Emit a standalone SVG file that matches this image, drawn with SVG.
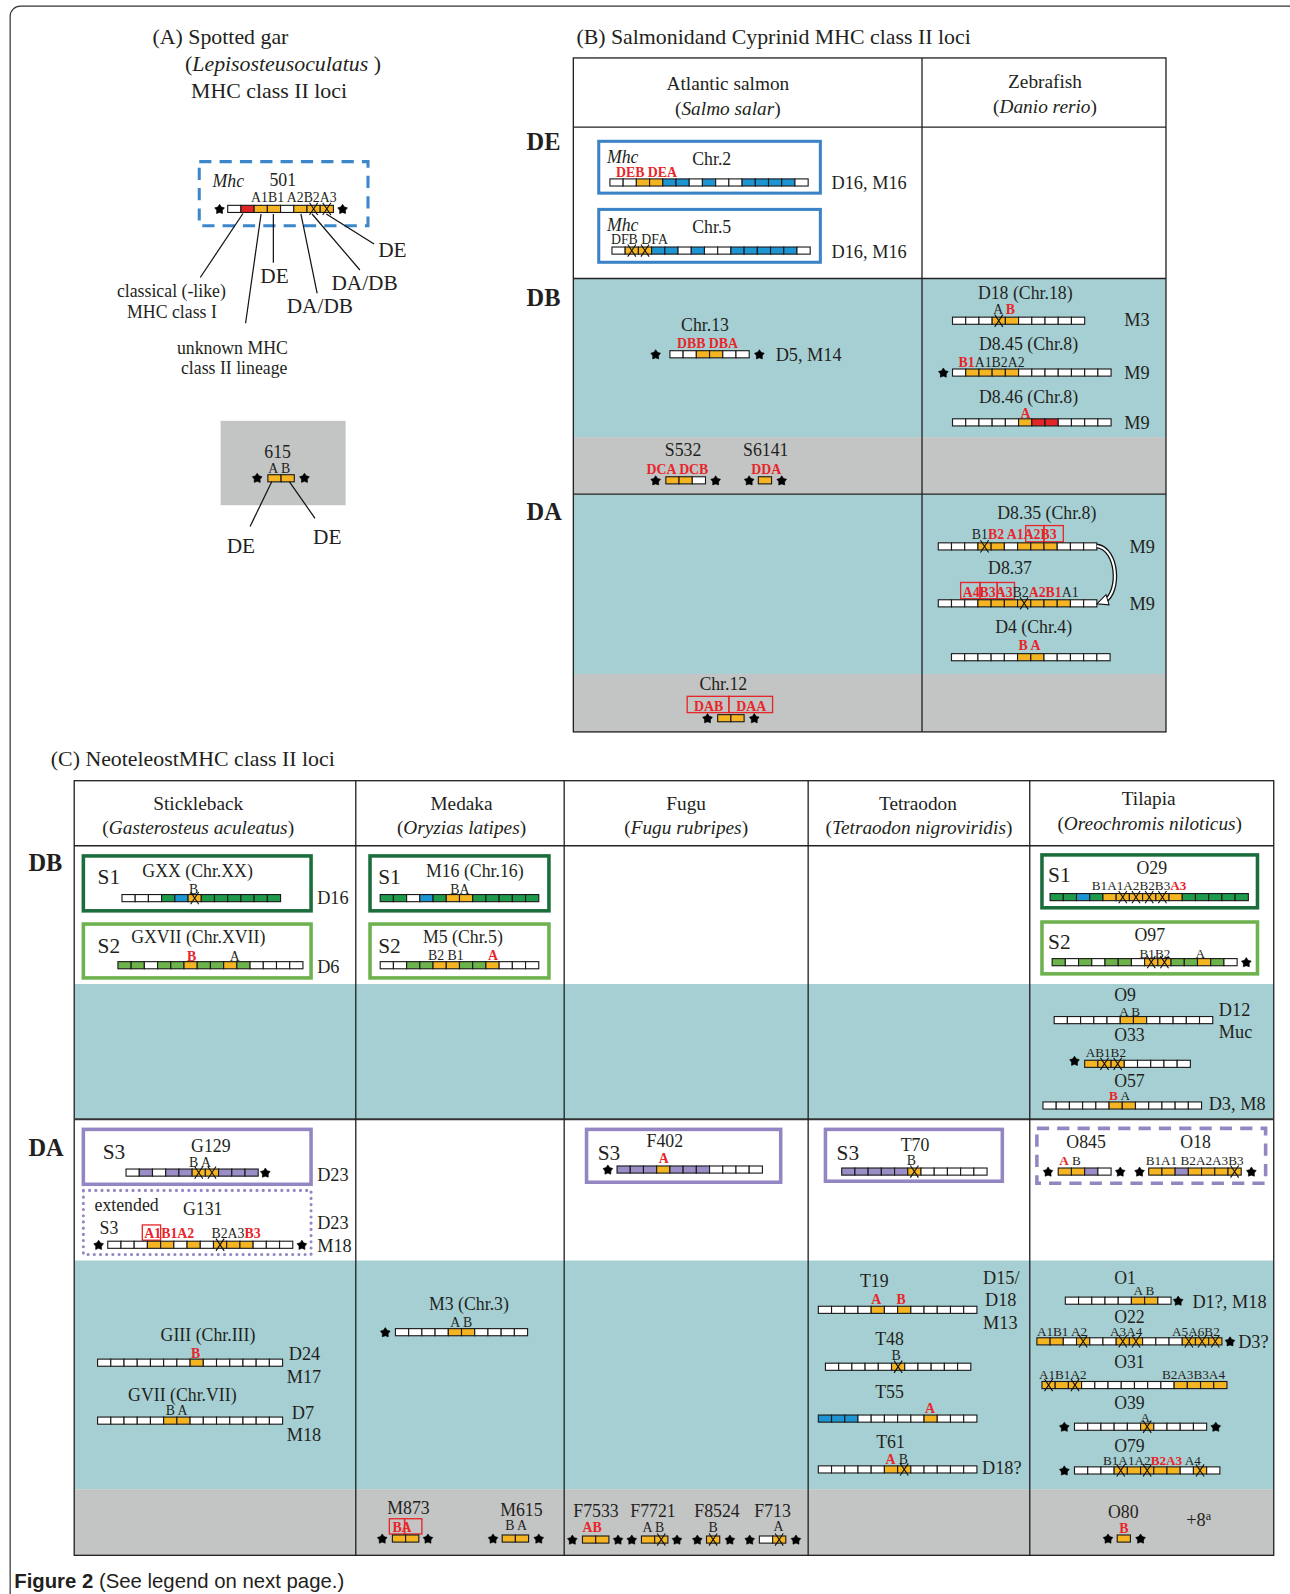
<svg xmlns="http://www.w3.org/2000/svg" width="1290" height="1594" viewBox="0 0 1290 1594">
<defs>
<style>
text{font-family:"Liberation Serif","Times New Roman",serif;fill:#231f20}
.s{font-size:13.6px}
.s13{font-size:13px}
.m{font-size:17.5px}
.n{font-size:18px}
.h{font-size:19px}
.ti{font-size:21.5px}
.rl{font-size:24px;font-weight:bold}
.S{font-size:21px}
.rd{fill:#e8262a;font-weight:bold}
.i{font-style:italic}
.tbl{fill:none;stroke:#222;stroke-width:1.3}
.ln{stroke:#222;stroke-width:1.3}
.ld{stroke:#111;stroke-width:1.2;fill:none}
.rb{fill:none;stroke:#e8262a;stroke-width:1.3}
.teal{fill:#a6cfd3}
.gray{fill:#c3c4c4}
</style>
<rect id="w" width="13" height="7" fill="#ffffff" stroke="#1a1a1a" stroke-width="1.1"/>
<rect id="o" width="13" height="7" fill="#f5b421" stroke="#1a1a1a" stroke-width="1.1"/>
<rect id="b" width="13" height="7" fill="#1d95d3" stroke="#1a1a1a" stroke-width="1.1"/>
<rect id="r" width="13" height="7" fill="#e42528" stroke="#1a1a1a" stroke-width="1.1"/>
<rect id="g" width="13" height="7" fill="#1d9a4a" stroke="#1a1a1a" stroke-width="1.1"/>
<rect id="l" width="13" height="7" fill="#6cb34b" stroke="#1a1a1a" stroke-width="1.1"/>
<rect id="p" width="13" height="7" fill="#9b8dc6" stroke="#1a1a1a" stroke-width="1.1"/>
<path id="X" d="M2.5,-2.5L10.5,9.5M10.5,-2.5L2.5,9.5" stroke="#111" stroke-width="1.1" fill="none"/>
<path id="st" d="M0,-5L1.75,-2.4L4.76,-1.55L2.85,0.93L2.94,4.05L0,3L-2.94,4.05L-2.85,0.93L-4.76,-1.55L-1.75,-2.4Z" fill="#000" stroke="#000" stroke-width="0.6" stroke-linejoin="round"/>
</defs>
<rect width="1290" height="1594" fill="#fff"/>
<g transform="scale(1.01655)">
<rect x="10" y="6" width="1300" height="1600" rx="10" fill="none" stroke="#333" stroke-width="1.2"/>

<!-- ============ PANEL A ============ -->
<g id="panelA-title">
<text x="150" y="43" class="ti">(A) Spotted gar</text>
<text x="182" y="70" class="ti">(<tspan class="i">Lepisosteusoculatus</tspan> )</text>
<text x="188" y="96" class="ti">MHC class II loci</text>
</g>
<g id="gar501">
<rect x="196" y="159" width="166" height="63" fill="none" stroke="#3b87c9" stroke-width="3" stroke-dasharray="12 8"/>
<text x="209" y="184" class="m i">Mhc</text>
<text x="265" y="183" class="m">501</text>
<text x="247" y="199" class="s">A1B1 A2B2A3</text>
<use href="#st" x="216" y="206"/><use href="#st" x="337" y="206"/>
<g transform="translate(224,202)"><use href="#w"/><use href="#r" x="13"/><use href="#o" x="26"/><use href="#o" x="39"/><use href="#w" x="52"/><use href="#o" x="65"/><use href="#o" x="78"/><use href="#o" x="91"/><use href="#X" x="78"/><use href="#X" x="91"/></g>
</g>
<g id="garLabels">
<text x="115" y="292" class="m">classical (-like)</text>
<text x="125" y="313" class="m">MHC class I</text>
<text x="174" y="348" class="m">unknown MHC</text>
<text x="178" y="368" class="m">class II lineage</text>
<text x="256" y="278" style="font-size:21px">DE</text>
<text x="282" y="308" style="font-size:21px">DA/DB</text>
<text x="326" y="285" style="font-size:21px">DA/DB</text>
<text x="372" y="253" style="font-size:21px">DE</text>
</g>
<g id="gar615">
<rect x="217" y="414" width="123" height="83" class="gray"/>
<text x="260" y="451" class="m">615</text>
<text x="264" y="465" class="s">A B</text>
<use href="#st" x="253" y="470.5"/><use href="#st" x="299.5" y="470.5"/>
<g transform="translate(263.5,467)"><use href="#o"/><use href="#o" x="13"/></g>
<text x="223" y="544" style="font-size:21px">DE</text>
<text x="308" y="535" style="font-size:21px">DE</text>
</g>

<!-- ============ PANEL B ============ -->
<g id="panelB-table">
<text x="567" y="43" class="ti">(B) Salmonidand Cyprinid MHC class II loci</text>
<rect x="564" y="274" width="583" height="156" class="teal"/>
<rect x="564" y="430" width="583" height="56" class="gray"/>
<rect x="564" y="486" width="583" height="177" class="teal"/>
<rect x="564" y="663" width="583" height="57" class="gray"/>
<rect x="564" y="57" width="583" height="663" class="tbl"/>
<line x1="564" y1="125" x2="1147" y2="125" class="ln"/>
<line x1="564" y1="274" x2="1147" y2="274" class="ln"/>
<line x1="564" y1="486" x2="1147" y2="486" class="ln"/>
<line x1="907" y1="57" x2="907" y2="720" class="ln"/>
<text x="716" y="89" class="h" text-anchor="middle">Atlantic salmon</text>
<text x="716" y="113" class="h" text-anchor="middle">(<tspan class="i">Salmo salar</tspan>)</text>
<text x="1028" y="87" class="h" text-anchor="middle">Zebrafish</text>
<text x="1028" y="111" class="h" text-anchor="middle">(<tspan class="i">Danio rerio</tspan>)</text>
<text x="518" y="148" class="rl">DE</text>
<text x="518" y="301" class="rl">DB</text>
<text x="518" y="512" class="rl">DA</text>
</g>
<g id="salChr2">
<rect x="589" y="139" width="218" height="51" fill="none" stroke="#3b83c6" stroke-width="3"/>
<text x="597" y="160" class="m i">Mhc</text>
<text x="681" y="162" class="m">Chr.2</text>
<text x="606" y="174" class="s rd">DEB DEA</text>
<g transform="translate(600,176)"><use href="#w"/><use href="#w" x="13"/><use href="#o" x="26"/><use href="#o" x="39"/><use href="#b" x="52"/><use href="#b" x="65"/><use href="#w" x="78"/><use href="#b" x="91"/><use href="#w" x="104"/><use href="#w" x="117"/><use href="#b" x="130"/><use href="#b" x="143"/><use href="#b" x="156"/><use href="#b" x="169"/><use href="#w" x="182"/></g>
<text x="818" y="186" class="n">D16, M16</text>
</g>
<g id="salChr5">
<rect x="589" y="206" width="218" height="52" fill="none" stroke="#3b83c6" stroke-width="3"/>
<text x="597" y="227" class="m i">Mhc</text>
<text x="681" y="229" class="m">Chr.5</text>
<text x="601" y="240" class="s">DFB DFA</text>
<g transform="translate(602,243)"><use href="#w"/><use href="#o" x="13"/><use href="#o" x="26"/><use href="#b" x="39"/><use href="#b" x="52"/><use href="#w" x="65"/><use href="#b" x="78"/><use href="#w" x="91"/><use href="#w" x="104"/><use href="#b" x="117"/><use href="#b" x="130"/><use href="#b" x="143"/><use href="#b" x="156"/><use href="#b" x="169"/><use href="#w" x="182"/><use href="#X" x="13"/><use href="#X" x="26"/></g>
<text x="818" y="254" class="n">D16, M16</text>
</g>
<g id="salChr13">
<text x="670" y="326" class="m">Chr.13</text>
<text x="666" y="342" class="s rd">DBB DBA</text>
<use href="#st" x="645" y="349"/><use href="#st" x="747" y="349"/>
<g transform="translate(659,345)"><use href="#w"/><use href="#w" x="13"/><use href="#o" x="26"/><use href="#o" x="39"/><use href="#w" x="52"/><use href="#w" x="65"/></g>
<text x="763" y="355" class="n">D5, M14</text>
</g>
<g id="zfD18">
<text x="962" y="294" class="m">D18 (Chr.18)</text>
<text x="977" y="309" class="s">A <tspan class="rd">B</tspan></text>
<g transform="translate(937,312)"><use href="#w"/><use href="#w" x="13"/><use href="#w" x="26"/><use href="#o" x="39"/><use href="#o" x="52"/><use href="#w" x="65"/><use href="#w" x="78"/><use href="#w" x="91"/><use href="#w" x="104"/><use href="#w" x="117"/><use href="#X" x="39"/></g>
<text x="1106" y="321" class="n">M3</text>
</g>
<g id="zfD845">
<text x="963" y="344" class="m">D8.45 (Chr.8)</text>
<text x="943" y="361" class="s"><tspan class="rd">B1</tspan>A1B2A2</text>
<use href="#st" x="928" y="367"/>
<g transform="translate(937,363)"><use href="#w"/><use href="#o" x="13"/><use href="#o" x="26"/><use href="#o" x="39"/><use href="#o" x="52"/><use href="#w" x="65"/><use href="#w" x="78"/><use href="#w" x="91"/><use href="#w" x="104"/><use href="#w" x="117"/><use href="#w" x="130"/><use href="#w" x="143"/></g>
<text x="1106" y="373" class="n">M9</text>
</g>
<g id="zfD846">
<text x="963" y="396" class="m">D8.46 (Chr.8)</text>
<text x="1004" y="411" class="s rd">A</text>
<g transform="translate(937,412)"><use href="#w"/><use href="#w" x="13"/><use href="#w" x="26"/><use href="#w" x="39"/><use href="#w" x="52"/><use href="#o" x="65"/><use href="#r" x="78"/><use href="#r" x="91"/><use href="#w" x="104"/><use href="#w" x="117"/><use href="#w" x="130"/><use href="#w" x="143"/></g>
<text x="1106" y="422" class="n">M9</text>
</g>
<g id="salS532">
<text x="654" y="449" class="m">S532</text>
<text x="636" y="466" class="s rd">DCA DCB</text>
<use href="#st" x="645" y="473"/><use href="#st" x="704" y="473"/>
<g transform="translate(655,469)"><use href="#o"/><use href="#o" x="13"/><use href="#w" x="26"/></g>
</g>
<g id="salS6141">
<text x="731" y="449" class="m">S6141</text>
<text x="739" y="466" class="s rd">DDA</text>
<use href="#st" x="737" y="473"/><use href="#st" x="769" y="473"/>
<g transform="translate(746,469)"><use href="#o"/></g>
</g>
<g id="zfD835">
<text x="981" y="511" class="m">D8.35 (Chr.8)</text>
<rect x="1009" y="517" width="18" height="16" class="rb"/><rect x="1027" y="517" width="19" height="16" class="rb"/>
<text x="956" y="530" class="s">B1<tspan class="rd">B2 A1A2B3</tspan></text>
<g transform="translate(923,534)"><use href="#w"/><use href="#w" x="13"/><use href="#w" x="26"/><use href="#o" x="39"/><use href="#o" x="52"/><use href="#w" x="65"/><use href="#o" x="78"/><use href="#o" x="91"/><use href="#o" x="104"/><use href="#w" x="117"/><use href="#w" x="130"/><use href="#w" x="143"/><use href="#X" x="39"/></g>
<text x="1111" y="544" class="n">M9</text>
</g>
<g id="zfD837">
<text x="972" y="565" class="m">D8.37</text>
<rect x="945" y="573" width="19" height="16" class="rb"/><rect x="964" y="573" width="17" height="16" class="rb"/><rect x="981" y="573" width="17" height="16" class="rb"/>
<text x="947" y="587" class="s"><tspan class="rd">A4B3A3</tspan>B2<tspan class="rd">A2B1</tspan>A1</text>
<g transform="translate(923,590)"><use href="#w"/><use href="#w" x="13"/><use href="#w" x="26"/><use href="#o" x="39"/><use href="#o" x="52"/><use href="#o" x="65"/><use href="#o" x="78"/><use href="#o" x="91"/><use href="#o" x="104"/><use href="#o" x="117"/><use href="#w" x="130"/><use href="#w" x="143"/><use href="#X" x="78"/></g>
<text x="1111" y="600" class="n">M9</text>
</g>
<g id="zfD4">
<text x="979" y="623" class="m">D4 (Chr.4)</text>
<text x="1002" y="639" class="s rd">B A</text>
<g transform="translate(936,643)"><use href="#w"/><use href="#w" x="13"/><use href="#w" x="26"/><use href="#w" x="39"/><use href="#w" x="52"/><use href="#o" x="65"/><use href="#o" x="78"/><use href="#w" x="91"/><use href="#w" x="104"/><use href="#w" x="117"/><use href="#w" x="130"/><use href="#w" x="143"/></g>
</g>
<g id="salChr12">
<text x="688" y="679" class="m">Chr.12</text>
<rect x="676" y="685" width="41" height="16" class="rb"/><rect x="717" y="685" width="43" height="16" class="rb"/>
<text x="697" y="699" class="s rd" text-anchor="middle">DAB</text>
<text x="739" y="699" class="s rd" text-anchor="middle">DAA</text>
<use href="#st" x="696" y="707"/><use href="#st" x="742" y="707"/>
<g transform="translate(706,703)"><use href="#o"/><use href="#o" x="13"/></g>
</g>

<!-- ============ PANEL C ============ -->
<g id="panelC-table">
<text x="50" y="754" class="ti">(C) NeoteleostMHC class II loci</text>
<rect x="73" y="968" width="1180" height="133" class="teal"/>
<rect x="73" y="1240" width="1180" height="225" class="teal"/>
<rect x="73" y="1465" width="1180" height="65" class="gray"/>
<rect x="73" y="768" width="1180" height="762" class="tbl"/>
<line x1="73" y1="832" x2="1253" y2="832" class="ln"/>
<line x1="73" y1="1101" x2="1253" y2="1101" stroke="#333" stroke-width="2"/>
<line x1="350" y1="768" x2="350" y2="1530" class="ln"/>
<line x1="555" y1="768" x2="555" y2="1530" class="ln"/>
<line x1="795" y1="768" x2="795" y2="1530" class="ln"/>
<line x1="1013" y1="768" x2="1013" y2="1530" class="ln"/>
<text x="195" y="797" class="h" text-anchor="middle">Stickleback</text>
<text x="195" y="820" class="h" text-anchor="middle">(<tspan class="i">Gasterosteus aculeatus</tspan>)</text>
<text x="454" y="797" class="h" text-anchor="middle">Medaka</text>
<text x="454" y="820" class="h" text-anchor="middle">(<tspan class="i">Oryzias latipes</tspan>)</text>
<text x="675" y="797" class="h" text-anchor="middle">Fugu</text>
<text x="675" y="820" class="h" text-anchor="middle">(<tspan class="i">Fugu rubripes</tspan>)</text>
<text x="903" y="797" class="h" text-anchor="middle">Tetraodon</text>
<text x="904" y="820" class="h" text-anchor="middle">(<tspan class="i">Tetraodon nigroviridis</tspan>)</text>
<text x="1130" y="792" class="h" text-anchor="middle">Tilapia</text>
<text x="1131" y="816" class="h" text-anchor="middle">(<tspan class="i">Oreochromis niloticus</tspan>)</text>
<text x="28" y="857" class="rl">DB</text>
<text x="28" y="1137" class="rl">DA</text>
</g>
<g id="sbGXX">
<rect x="82" y="842" width="224" height="54" fill="none" stroke="#1b6d3c" stroke-width="3.5"/>
<text x="96" y="870" class="S">S1</text>
<text x="140" y="863" class="m">GXX (Chr.XX)</text>
<text x="186" y="879" class="s">B</text>
<g transform="translate(120,880)"><use href="#w"/><use href="#w" x="13"/><use href="#w" x="26"/><use href="#g" x="39"/><use href="#b" x="52"/><use href="#o" x="65"/><use href="#g" x="78"/><use href="#g" x="91"/><use href="#g" x="104"/><use href="#g" x="117"/><use href="#g" x="130"/><use href="#g" x="143"/><use href="#X" x="65"/></g>
<text x="312" y="889" class="n">D16</text>
</g>
<g id="sbGXVII">
<rect x="82" y="909" width="224" height="53" fill="none" stroke="#6db24f" stroke-width="3.5"/>
<text x="96" y="937" class="S">S2</text>
<text x="129" y="928" class="m">GXVII (Chr.XVII)</text>
<text x="184" y="945" class="s"><tspan class="rd">B</tspan></text>
<text x="226" y="945" class="s">A</text>
<g transform="translate(116,946)"><use href="#l"/><use href="#l" x="13"/><use href="#w" x="26"/><use href="#l" x="39"/><use href="#l" x="52"/><use href="#o" x="65"/><use href="#l" x="78"/><use href="#l" x="91"/><use href="#o" x="104"/><use href="#l" x="117"/><use href="#w" x="130"/><use href="#w" x="143"/><use href="#w" x="156"/><use href="#w" x="169"/></g>
<text x="312" y="957" class="n">D6</text>
</g>
<g id="mdM16">
<rect x="364" y="842" width="176" height="54" fill="none" stroke="#1b6d3c" stroke-width="3.5"/>
<text x="372" y="870" class="S">S1</text>
<text x="419" y="863" class="m">M16 (Chr.16)</text>
<text x="443" y="879" class="s">BA</text>
<g transform="translate(374,880)"><use href="#g"/><use href="#g" x="13"/><use href="#w" x="26"/><use href="#b" x="39"/><use href="#g" x="52"/><use href="#o" x="65"/><use href="#o" x="78"/><use href="#g" x="91"/><use href="#g" x="104"/><use href="#g" x="117"/><use href="#g" x="130"/><use href="#g" x="143"/></g>
</g>
<g id="mdM5">
<rect x="364" y="909" width="176" height="53" fill="none" stroke="#6db24f" stroke-width="3.5"/>
<text x="372" y="937" class="S">S2</text>
<text x="416" y="928" class="m">M5 (Chr.5)</text>
<text x="421" y="944" class="s">B2 B1</text>
<text x="480" y="944" class="s rd">A</text>
<g transform="translate(374,946)"><use href="#w"/><use href="#w" x="13"/><use href="#l" x="26"/><use href="#l" x="39"/><use href="#o" x="52"/><use href="#o" x="65"/><use href="#l" x="78"/><use href="#l" x="91"/><use href="#o" x="104"/><use href="#w" x="117"/><use href="#w" x="130"/><use href="#w" x="143"/></g>
</g>
<g id="tlO29">
<rect x="1025" y="841" width="212" height="52" fill="none" stroke="#1b6d3c" stroke-width="3.5"/>
<text x="1031" y="868" class="S">S1</text>
<text x="1118" y="860" class="m">O29</text>
<text x="1074" y="876" class="s13">B1A1A2B2B3<tspan class="rd">A3</tspan></text>
<g transform="translate(1033,879)"><use href="#g"/><use href="#g" x="13"/><use href="#b" x="26"/><use href="#g" x="39"/><use href="#o" x="52"/><use href="#o" x="65"/><use href="#o" x="78"/><use href="#o" x="91"/><use href="#o" x="104"/><use href="#o" x="117"/><use href="#g" x="130"/><use href="#g" x="143"/><use href="#g" x="156"/><use href="#g" x="169"/><use href="#g" x="182"/><use href="#X" x="65"/><use href="#X" x="78"/><use href="#X" x="91"/><use href="#X" x="104"/></g>
</g>
<g id="tlO97">
<rect x="1025" y="907" width="212" height="51" fill="none" stroke="#6db24f" stroke-width="3.5"/>
<text x="1031" y="934" class="S">S2</text>
<text x="1116" y="926" class="m">O97</text>
<text x="1121" y="942" class="s13">B1B2</text>
<text x="1176" y="942" class="s13">A</text>
<g transform="translate(1035,943)"><use href="#l"/><use href="#w" x="13"/><use href="#l" x="26"/><use href="#w" x="39"/><use href="#l" x="52"/><use href="#l" x="65"/><use href="#w" x="78"/><use href="#o" x="91"/><use href="#o" x="104"/><use href="#l" x="117"/><use href="#l" x="130"/><use href="#o" x="143"/><use href="#l" x="156"/><use href="#w" x="169"/><use href="#X" x="91"/><use href="#X" x="104"/></g>
<use href="#st" x="1226" y="947"/>
</g>
<g id="tlO9">
<text x="1096" y="985" class="m">O9</text>
<text x="1101" y="999" class="s13">A B</text>
<g transform="translate(1037,1000)"><use href="#w"/><use href="#w" x="13"/><use href="#w" x="26"/><use href="#w" x="39"/><use href="#w" x="52"/><use href="#o" x="65"/><use href="#o" x="78"/><use href="#w" x="91"/><use href="#w" x="104"/><use href="#w" x="117"/><use href="#w" x="130"/><use href="#w" x="143"/></g>
<text x="1199" y="999" class="n">D12</text>
</g>
<g id="tlO33">
<text x="1096" y="1024" class="m">O33</text>
<text x="1068" y="1040" class="s13">AB1B2</text>
<use href="#st" x="1057" y="1044"/>
<g transform="translate(1067,1043)"><use href="#o"/><use href="#o" x="13"/><use href="#o" x="26"/><use href="#w" x="39"/><use href="#w" x="52"/><use href="#w" x="65"/><use href="#w" x="78"/><use href="#w" x="91"/><use href="#X" x="13"/><use href="#X" x="26"/></g>
<text x="1199" y="1021" class="n">Muc</text>
</g>
<g id="tlO57">
<text x="1096" y="1069" class="m">O57</text>
<text x="1091" y="1082" class="s13"><tspan class="rd">B</tspan> A</text>
<g transform="translate(1026,1084)"><use href="#w"/><use href="#w" x="13"/><use href="#w" x="26"/><use href="#w" x="39"/><use href="#w" x="52"/><use href="#o" x="65"/><use href="#o" x="78"/><use href="#w" x="91"/><use href="#w" x="104"/><use href="#w" x="117"/><use href="#w" x="130"/><use href="#w" x="143"/></g>
<text x="1189" y="1092" class="n">D3, M8</text>
</g>
<g id="sbG129">
<rect x="82" y="1111" width="224" height="54" fill="none" stroke="#9386c3" stroke-width="3.5"/>
<text x="101" y="1140" class="S">S3</text>
<text x="188" y="1133" class="m">G129</text>
<text x="186" y="1148" class="s">B  A</text>
<g transform="translate(124,1150)"><use href="#w"/><use href="#p" x="13"/><use href="#w" x="26"/><use href="#p" x="39"/><use href="#p" x="52"/><use href="#o" x="65"/><use href="#o" x="78"/><use href="#p" x="91"/><use href="#p" x="104"/><use href="#p" x="117"/><use href="#X" x="65"/><use href="#X" x="78"/></g>
<use href="#st" x="261" y="1154"/>
<text x="312" y="1162" class="n">D23</text>
</g>
<g id="sbG131">
<rect x="82" y="1171" width="224" height="63" fill="none" stroke="#9386c3" stroke-width="3" stroke-dasharray="0.1 6" stroke-linecap="round"/>
<text x="93" y="1191" class="m">extended</text>
<text x="180" y="1195" class="m">G131</text>
<text x="98" y="1214" class="m">S3</text>
<rect x="140" y="1205" width="18" height="15" class="rb"/>
<text x="142" y="1218" class="s"><tspan class="rd">A1B1A2</tspan></text>
<text x="208" y="1218" class="s">B2A3<tspan class="rd">B3</tspan></text>
<use href="#st" x="97" y="1225"/><use href="#st" x="297" y="1225"/>
<g transform="translate(106,1221)"><use href="#w"/><use href="#w" x="13"/><use href="#w" x="26"/><use href="#o" x="39"/><use href="#o" x="52"/><use href="#w" x="65"/><use href="#o" x="78"/><use href="#w" x="91"/><use href="#o" x="104"/><use href="#o" x="117"/><use href="#o" x="130"/><use href="#w" x="143"/><use href="#w" x="156"/><use href="#w" x="169"/><use href="#X" x="104"/></g>
<text x="312" y="1209" class="n">D23</text>
<text x="312" y="1232" class="n">M18</text>
</g>
<g id="fgF402">
<rect x="577" y="1111" width="191" height="52" fill="none" stroke="#9386c3" stroke-width="3.5"/>
<text x="588" y="1141" class="S">S3</text>
<text x="636" y="1128" class="m">F402</text>
<text x="648" y="1144" class="s rd">A</text>
<use href="#st" x="598" y="1151"/>
<g transform="translate(607,1147)"><use href="#p"/><use href="#p" x="13"/><use href="#p" x="26"/><use href="#o" x="39"/><use href="#p" x="52"/><use href="#p" x="65"/><use href="#p" x="78"/><use href="#w" x="91"/><use href="#w" x="104"/><use href="#w" x="117"/><use href="#w" x="130"/></g>
</g>
<g id="tdT70">
<rect x="812" y="1111" width="174" height="51" fill="none" stroke="#9386c3" stroke-width="3.5"/>
<text x="823" y="1141" class="S">S3</text>
<text x="886" y="1132" class="m">T70</text>
<text x="892" y="1146" class="s">B</text>
<g transform="translate(828,1149)"><use href="#p"/><use href="#p" x="13"/><use href="#p" x="26"/><use href="#p" x="39"/><use href="#p" x="52"/><use href="#o" x="65"/><use href="#w" x="78"/><use href="#w" x="91"/><use href="#w" x="104"/><use href="#w" x="117"/><use href="#w" x="130"/><use href="#X" x="65"/></g>
</g>
<g id="tlO845O18">
<rect x="1020" y="1110" width="225" height="54" fill="none" stroke="#9386c3" stroke-width="3.5" stroke-dasharray="12 8"/>
<text x="1049" y="1129" class="m">O845</text>
<text x="1161" y="1129" class="m">O18</text>
<text x="1042" y="1146" class="s13"><tspan class="rd">A</tspan> B</text>
<use href="#st" x="1031" y="1153"/><use href="#st" x="1102" y="1153"/>
<g transform="translate(1041,1149)"><use href="#o"/><use href="#o" x="13"/><use href="#p" x="26"/><use href="#w" x="39"/></g>
<text x="1127" y="1146" class="s13">B1A1 B2A2A3B3</text>
<use href="#st" x="1121" y="1153"/><use href="#st" x="1231" y="1153"/>
<g transform="translate(1130,1149)"><use href="#o"/><use href="#o" x="13"/><use href="#p" x="26"/><use href="#o" x="39"/><use href="#o" x="52"/><use href="#o" x="65"/><use href="#o" x="78"/><use href="#X" x="78"/></g>
</g>
<g id="sbGIII">
<text x="158" y="1319" class="m">GIII (Chr.III)</text>
<text x="188" y="1336" class="s rd">B</text>
<g transform="translate(96,1337)"><use href="#w"/><use href="#w" x="13"/><use href="#w" x="26"/><use href="#w" x="39"/><use href="#w" x="52"/><use href="#w" x="65"/><use href="#w" x="78"/><use href="#o" x="91"/><use href="#w" x="104"/><use href="#w" x="117"/><use href="#w" x="130"/><use href="#w" x="143"/><use href="#w" x="156"/><use href="#w" x="169"/></g>
<text x="284" y="1338" class="n">D24</text>
<text x="282" y="1360" class="n">M17</text>
</g>
<g id="sbGVII">
<text x="126" y="1378" class="m">GVII (Chr.VII)</text>
<text x="163" y="1392" class="s">B A</text>
<g transform="translate(96,1394)"><use href="#w"/><use href="#w" x="13"/><use href="#w" x="26"/><use href="#w" x="39"/><use href="#w" x="52"/><use href="#o" x="65"/><use href="#o" x="78"/><use href="#w" x="91"/><use href="#w" x="104"/><use href="#w" x="117"/><use href="#w" x="130"/><use href="#w" x="143"/><use href="#w" x="156"/><use href="#w" x="169"/></g>
<text x="287" y="1396" class="n">D7</text>
<text x="282" y="1418" class="n">M18</text>
</g>
<g id="mdM3">
<text x="422" y="1289" class="m">M3 (Chr.3)</text>
<text x="443" y="1305" class="s">A B</text>
<use href="#st" x="379" y="1311"/>
<g transform="translate(389,1307)"><use href="#w"/><use href="#w" x="13"/><use href="#w" x="26"/><use href="#w" x="39"/><use href="#o" x="52"/><use href="#o" x="65"/><use href="#w" x="78"/><use href="#w" x="91"/><use href="#w" x="104"/><use href="#w" x="117"/></g>
</g>
<g id="tdT19">
<text x="846" y="1266" class="m">T19</text>
<text x="857" y="1283" class="s rd">A</text>
<text x="882" y="1283" class="s rd">B</text>
<g transform="translate(805,1285)"><use href="#w"/><use href="#w" x="13"/><use href="#w" x="26"/><use href="#w" x="39"/><use href="#o" x="52"/><use href="#w" x="65"/><use href="#o" x="78"/><use href="#w" x="91"/><use href="#w" x="104"/><use href="#w" x="117"/><use href="#w" x="130"/><use href="#w" x="143"/></g>
<text x="967" y="1263" class="n">D15/</text>
<text x="969" y="1285" class="n">D18</text>
<text x="967" y="1307" class="n">M13</text>
</g>
<g id="tdT48">
<text x="861" y="1323" class="m">T48</text>
<text x="877" y="1338" class="s">B</text>
<g transform="translate(812,1341)"><use href="#w"/><use href="#w" x="13"/><use href="#w" x="26"/><use href="#w" x="39"/><use href="#w" x="52"/><use href="#o" x="65"/><use href="#w" x="78"/><use href="#w" x="91"/><use href="#w" x="104"/><use href="#w" x="117"/><use href="#w" x="130"/><use href="#X" x="65"/></g>
</g>
<g id="tdT55">
<text x="861" y="1375" class="m">T55</text>
<text x="910" y="1390" class="s rd">A</text>
<g transform="translate(805,1392)"><use href="#b"/><use href="#b" x="13"/><use href="#b" x="26"/><use href="#w" x="39"/><use href="#w" x="52"/><use href="#w" x="65"/><use href="#w" x="78"/><use href="#w" x="91"/><use href="#o" x="104"/><use href="#w" x="117"/><use href="#w" x="130"/><use href="#w" x="143"/></g>
</g>
<g id="tdT61">
<text x="862" y="1424" class="m">T61</text>
<text x="871" y="1440" class="s"><tspan class="rd">A</tspan> B</text>
<g transform="translate(805,1442)"><use href="#w"/><use href="#w" x="13"/><use href="#w" x="26"/><use href="#w" x="39"/><use href="#w" x="52"/><use href="#o" x="65"/><use href="#o" x="78"/><use href="#w" x="91"/><use href="#w" x="104"/><use href="#w" x="117"/><use href="#w" x="130"/><use href="#w" x="143"/><use href="#X" x="78"/></g>
<text x="966" y="1450" class="n">D18?</text>
</g>
<g id="tlO1">
<text x="1096" y="1263" class="m">O1</text>
<text x="1115" y="1274" class="s13">A B</text>
<g transform="translate(1048,1276)"><use href="#w"/><use href="#w" x="13"/><use href="#w" x="26"/><use href="#w" x="39"/><use href="#w" x="52"/><use href="#o" x="65"/><use href="#o" x="78"/><use href="#w" x="91"/></g>
<use href="#st" x="1159" y="1280"/>
<text x="1173" y="1287" class="n">D1?, M18</text>
</g>
<g id="tlO22">
<text x="1096" y="1301" class="m">O22</text>
<text x="1020" y="1314" class="s13">A1B1 A2</text>
<text x="1092" y="1314" class="s13">A3A4</text>
<text x="1153" y="1314" class="s13">A5A6B2</text>
<g transform="translate(1020,1316)"><use href="#o"/><use href="#o" x="13"/><use href="#w" x="26"/><use href="#o" x="39"/><use href="#w" x="52"/><use href="#w" x="65"/><use href="#o" x="78"/><use href="#o" x="91"/><use href="#w" x="104"/><use href="#w" x="117"/><use href="#w" x="130"/><use href="#o" x="143"/><use href="#o" x="156"/><use href="#o" x="169"/><use href="#X" x="39"/><use href="#X" x="78"/><use href="#X" x="91"/><use href="#X" x="143"/><use href="#X" x="156"/><use href="#X" x="169"/></g>
<use href="#st" x="1210" y="1320"/>
<text x="1218" y="1326" class="n">D3?</text>
</g>
<g id="tlO31">
<text x="1096" y="1346" class="m">O31</text>
<text x="1022" y="1357" class="s13">A1B1A2</text>
<text x="1143" y="1357" class="s13">B2A3B3A4</text>
<g transform="translate(1025,1359)"><use href="#o"/><use href="#o" x="13"/><use href="#o" x="26"/><use href="#w" x="39"/><use href="#w" x="52"/><use href="#w" x="65"/><use href="#w" x="78"/><use href="#w" x="91"/><use href="#w" x="104"/><use href="#w" x="117"/><use href="#o" x="130"/><use href="#o" x="143"/><use href="#o" x="156"/><use href="#o" x="169"/><use href="#X"/><use href="#X" x="26"/></g>
</g>
<g id="tlO39">
<text x="1096" y="1386" class="m">O39</text>
<text x="1122" y="1399" class="s13">A</text>
<use href="#st" x="1047" y="1404"/><use href="#st" x="1196" y="1404"/>
<g transform="translate(1057,1400)"><use href="#w"/><use href="#w" x="13"/><use href="#w" x="26"/><use href="#w" x="39"/><use href="#w" x="52"/><use href="#o" x="65"/><use href="#w" x="78"/><use href="#w" x="91"/><use href="#w" x="104"/><use href="#w" x="117"/><use href="#X" x="65"/></g>
</g>
<g id="tlO79">
<text x="1096" y="1428" class="m">O79</text>
<text x="1085" y="1441" class="s13">B1A1A2<tspan class="rd">B2A3</tspan> A4</text>
<use href="#st" x="1047" y="1447"/>
<g transform="translate(1057,1443)"><use href="#w"/><use href="#w" x="13"/><use href="#w" x="26"/><use href="#o" x="39"/><use href="#o" x="52"/><use href="#o" x="65"/><use href="#o" x="78"/><use href="#o" x="91"/><use href="#w" x="104"/><use href="#o" x="117"/><use href="#w" x="130"/><use href="#X" x="39"/><use href="#X" x="65"/><use href="#X" x="117"/></g>
</g>
<g id="mdM873">
<text x="381" y="1489" class="m">M873</text>
<rect x="383" y="1494" width="15" height="15" class="rb"/><rect x="398" y="1494" width="17" height="15" class="rb"/>
<text x="386" y="1507" class="s rd">BA</text>
<use href="#st" x="376" y="1514"/><use href="#st" x="421" y="1514"/>
<g transform="translate(386,1510)"><use href="#o"/><use href="#o" x="13"/></g>
</g>
<g id="mdM615">
<text x="492" y="1491" class="m">M615</text>
<text x="497" y="1505" class="s">B A</text>
<use href="#st" x="485" y="1514"/><use href="#st" x="530" y="1514"/>
<g transform="translate(494,1510)"><use href="#o"/><use href="#o" x="13"/></g>
</g>
<g id="fgF7533">
<text x="564" y="1492" class="m">F7533</text>
<text x="573" y="1507" class="s rd">AB</text>
<use href="#st" x="563" y="1515"/><use href="#st" x="608" y="1515"/>
<g transform="translate(573,1511)"><use href="#o"/><use href="#o" x="13"/></g>
</g>
<g id="fgF7721">
<text x="620" y="1492" class="m">F7721</text>
<text x="632" y="1507" class="s">A B</text>
<use href="#st" x="621.5" y="1515"/><use href="#st" x="666" y="1515"/>
<g transform="translate(631,1511)"><use href="#o"/><use href="#o" x="13"/><use href="#X" x="13"/></g>
</g>
<g id="fgF8524">
<text x="683" y="1492" class="m">F8524</text>
<text x="697" y="1507" class="s">B</text>
<use href="#st" x="686" y="1515"/><use href="#st" x="718" y="1515"/>
<g transform="translate(695,1511)"><use href="#o"/><use href="#X"/></g>
</g>
<g id="fgF713">
<text x="742" y="1492" class="m">F713</text>
<text x="761" y="1506" class="s">A</text>
<use href="#st" x="737.5" y="1515"/><use href="#st" x="783" y="1515"/>
<g transform="translate(747,1511)"><use href="#w"/><use href="#o" x="13"/><use href="#X" x="13"/></g>
</g>
<g id="tlO80">
<text x="1090" y="1493" class="m">O80</text>
<text x="1101" y="1508" class="s rd">B</text>
<use href="#st" x="1090" y="1514"/><use href="#st" x="1122" y="1514"/>
<g transform="translate(1099,1510)"><use href="#o"/></g>
<text x="1167" y="1501" class="n">+8<tspan dy="-6" style="font-size:12px">a</tspan></text>
</g>

<!-- ============ CONNECTORS ============ -->
<g id="connectors">
<line x1="239" y1="210" x2="197" y2="273" class="ld"/>
<line x1="256.8" y1="210.5" x2="241.6" y2="318" class="ld"/>
<line x1="268.9" y1="210.5" x2="268.9" y2="258.4" class="ld"/>
<line x1="296" y1="210.5" x2="312" y2="288.5" class="ld"/>
<line x1="307" y1="210.5" x2="354" y2="265.6" class="ld"/>
<line x1="321" y1="210.5" x2="368" y2="240" class="ld"/>
<line x1="267.3" y1="473.8" x2="246" y2="518" class="ld"/>
<line x1="284.6" y1="473.8" x2="309.9" y2="509.9" class="ld"/>
<path d="M1079,537 C1100,540 1102,582 1087,591" fill="none" stroke="#111" stroke-width="4.5"/>
<path d="M1079,537 C1100,540 1102,582 1087,591" fill="none" stroke="#fff" stroke-width="2"/>
<polygon points="1079,594 1088,585 1091,595" fill="#fff" stroke="#111" stroke-width="1"/>
</g>

<text x="14" y="1562" style="font-family:'Liberation Sans',Arial,sans-serif;font-size:20px;fill:#231f20"><tspan font-weight="bold">Figure 2</tspan> (See legend on next page.)</text>
</g>
</svg>
